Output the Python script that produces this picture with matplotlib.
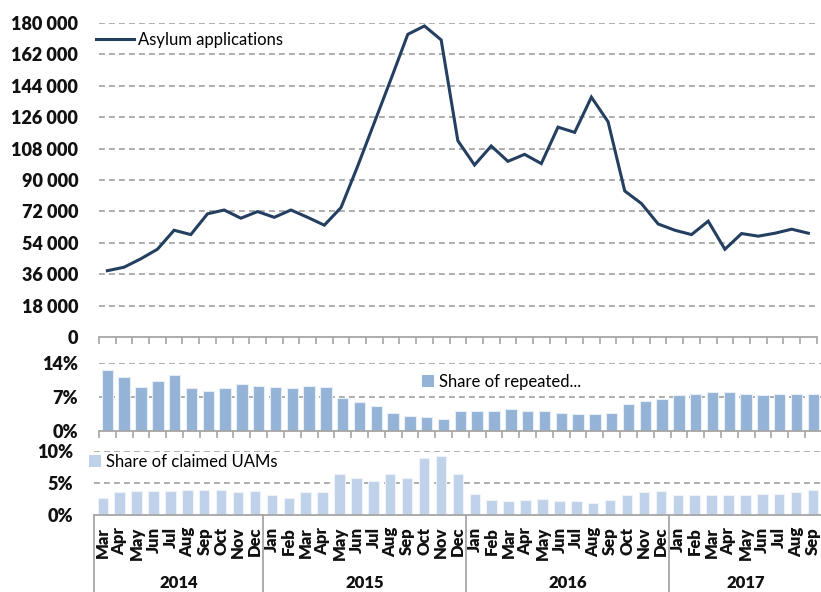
import matplotlib
matplotlib.use("Agg")
import matplotlib.pyplot as plt
import matplotlib.transforms as mtrans
from matplotlib.lines import Line2D
from matplotlib.patches import Patch
import numpy as np

plt.rcParams['font.family'] = ['Lato', 'DejaVu Sans']

# ---------------- data ----------------
months = (["Mar", "Apr", "May", "Jun", "Jul", "Aug", "Sep", "Oct", "Nov", "Dec"] +
          ["Jan", "Feb", "Mar", "Apr", "May", "Jun", "Jul", "Aug", "Sep", "Oct", "Nov", "Dec"] +
          ["Jan", "Feb", "Mar", "Apr", "May", "Jun", "Jul", "Aug", "Sep", "Oct", "Nov", "Dec"] +
          ["Jan", "Feb", "Mar", "Apr", "May", "Jun", "Jul", "Aug", "Sep"])
years = ["2014", "2015", "2016", "2017"]
months_per_year = [10, 12, 12, 9]

asylum_applications = [38000, 40000, 44800, 50300, 61200, 58700, 70600, 72800, 68100, 71900,
                       68600, 72800, 68600, 64100, 74200, 98000, 123000, 148000, 173500, 178300, 170300, 112500,
                       98600, 109500, 100700, 104700, 99400, 120300, 117300, 137500, 123400, 83700, 76500, 64800,
                       61200, 58700, 66400, 50300, 59300, 57800, 59500, 61800, 59500]

share_repeated = [12.6, 11.0, 9.0, 10.2, 11.5, 8.7, 8.2, 8.7, 9.6, 9.3,
                  9.0, 8.7, 9.3, 9.0, 6.8, 5.9, 5.1, 3.7, 3.1, 2.8, 2.5, 4.0,
                  4.0, 4.0, 4.5, 4.0, 4.0, 3.7, 3.4, 3.4, 3.7, 5.4, 6.2, 6.5,
                  7.3, 7.6, 7.9, 7.9, 7.6, 7.3, 7.6, 7.6, 7.6]

share_uam = [2.7, 3.5, 3.7, 3.7, 3.7, 3.9, 3.9, 3.9, 3.5, 3.7,
             3.1, 2.7, 3.5, 3.5, 6.3, 5.7, 5.3, 6.3, 5.7, 8.9, 9.1, 6.3,
             3.3, 2.3, 2.1, 2.3, 2.5, 2.1, 2.1, 1.8, 2.3, 3.1, 3.5, 3.7,
             3.1, 3.1, 3.1, 3.1, 3.1, 3.3, 3.3, 3.5, 3.9]

line_yticks = list(range(0, 180001, 18000))
rep_yticks = [0, 7, 14]
uam_yticks = [0, 5, 10]

# ---------------- styling ----------------
W, H = 821, 592
LINE_C = '#243F60'
REP_C = '#95B3D7'
UAM_C = '#C0D2E9'
GRID_C = '#A0A0A0'
AX_C = '#A6A6A6'
TXT_C = '#111111'

fig = plt.figure(figsize=(W / 100, H / 100), dpi=100)


def px_axes(left, right, top, bottom):
    return fig.add_axes([left / W, 1 - bottom / H, (right - left) / W, (bottom - top) / H])


n = len(months)
x = np.arange(n)


def style(ax, yticks, fmt):
    for s in ['top', 'right', 'left']:
        ax.spines[s].set_visible(False)
    ax.spines['bottom'].set_color(AX_C)
    ax.spines['bottom'].set_linewidth(1.3)
    ax.set_xlim(-0.5, n - 0.5)
    ax.set_yticks(yticks)
    ax.set_yticklabels([fmt(v) for v in yticks], fontsize=13, fontweight='heavy', color=TXT_C)
    ax.tick_params(axis='y', length=0, pad=15)
    for v in yticks[1:]:
        ax.axhline(v, color=GRID_C, lw=1.2, ls=(0, (3.5, 2.5)), zorder=0)


def top_ticks(ax):
    ax.set_xticks(np.arange(-0.5, n, 1.0))
    ax.set_xticklabels([])
    ax.tick_params(axis='x', length=5, width=1.2, color=AX_C, direction='out')


# ---- top: line chart ----
ax1 = px_axes(99, 816.7, 23, 337)
style(ax1, line_yticks, lambda v: f"{v:,}".replace(",", " "))
ax1.set_ylim(0, 180000)
top_ticks(ax1)
ax1.plot(x, asylum_applications, color=LINE_C, lw=2.2, solid_joinstyle='miter', zorder=3,
         label='Asylum applications')
ax1.legend(handles=[Line2D([0], [0], color=LINE_C, lw=2.2, label='Asylum applications')],
           loc='center left', bbox_to_anchor=(96 / W, 1 - 40 / H), bbox_transform=fig.transFigure,
           frameon=False, fontsize=12, handlelength=2.3, handletextpad=0.2, borderaxespad=0,
           borderpad=0)

# ---- middle: share of repeated ----
ax2 = px_axes(99, 821.8, 362.7, 430.7)
style(ax2, rep_yticks, lambda v: f"{v}%")
ax2.set_ylim(0, 14)
top_ticks(ax2)
ax2.bar(x, share_repeated, width=0.68, color=REP_C, edgecolor='#E6EEF7', linewidth=0.8, zorder=2)
ax2.legend(handles=[Patch(facecolor=REP_C, label='Share of repeated...')],
           loc='center left', bbox_to_anchor=(422 / W, 1 - 382 / H), bbox_transform=fig.transFigure,
           frameon=False, fontsize=12, handlelength=0.7, handleheight=0.7, handletextpad=0.3,
           borderaxespad=0, borderpad=0)

# ---- bottom: share of claimed UAMs ----
ax3 = px_axes(94.3, 821.5, 450.5, 515)
style(ax3, uam_yticks, lambda v: f"{v}%")
ax3.set_ylim(0, 10)
ax3.set_xticks([])
ax3.bar(x, share_uam, width=0.62, color=UAM_C, edgecolor='#EEF3FA', linewidth=0.8, zorder=2)
ax3.legend(handles=[Patch(facecolor=UAM_C, label='Share of claimed UAMs')],
           loc='center left', bbox_to_anchor=(89 / W, 1 - 462 / H), bbox_transform=fig.transFigure,
           frameon=False, fontsize=12, handlelength=0.7, handleheight=0.7, handletextpad=0.3,
           borderaxespad=0, borderpad=0)

# multi-level category axis
ax_h = 515 - 450.5
trans = mtrans.blended_transform_factory(ax3.transData, ax3.transAxes)
for i, m in enumerate(months):
    ax3.text(i, -(527 - 515) / ax_h, m, transform=trans, rotation=90, ha='center', va='top',
             fontsize=12, fontweight='heavy', color=TXT_C, clip_on=False)

bounds = np.concatenate([[0], np.cumsum(months_per_year)]) - 0.5
for b in bounds[:-1]:
    ax3.add_line(Line2D([b, b], [0, -(600 - 515) / ax_h], transform=trans, color=AX_C, lw=1.3,
                        clip_on=False))
for k, yr in enumerate(years):
    c = (bounds[k] + bounds[k + 1]) / 2
    ax3.text(c, -(583.5 - 515) / ax_h, yr, transform=trans, ha='center', va='center',
             fontsize=12, fontweight='heavy', color=TXT_C, clip_on=False)

fig.savefig('out.png', dpi=100)
